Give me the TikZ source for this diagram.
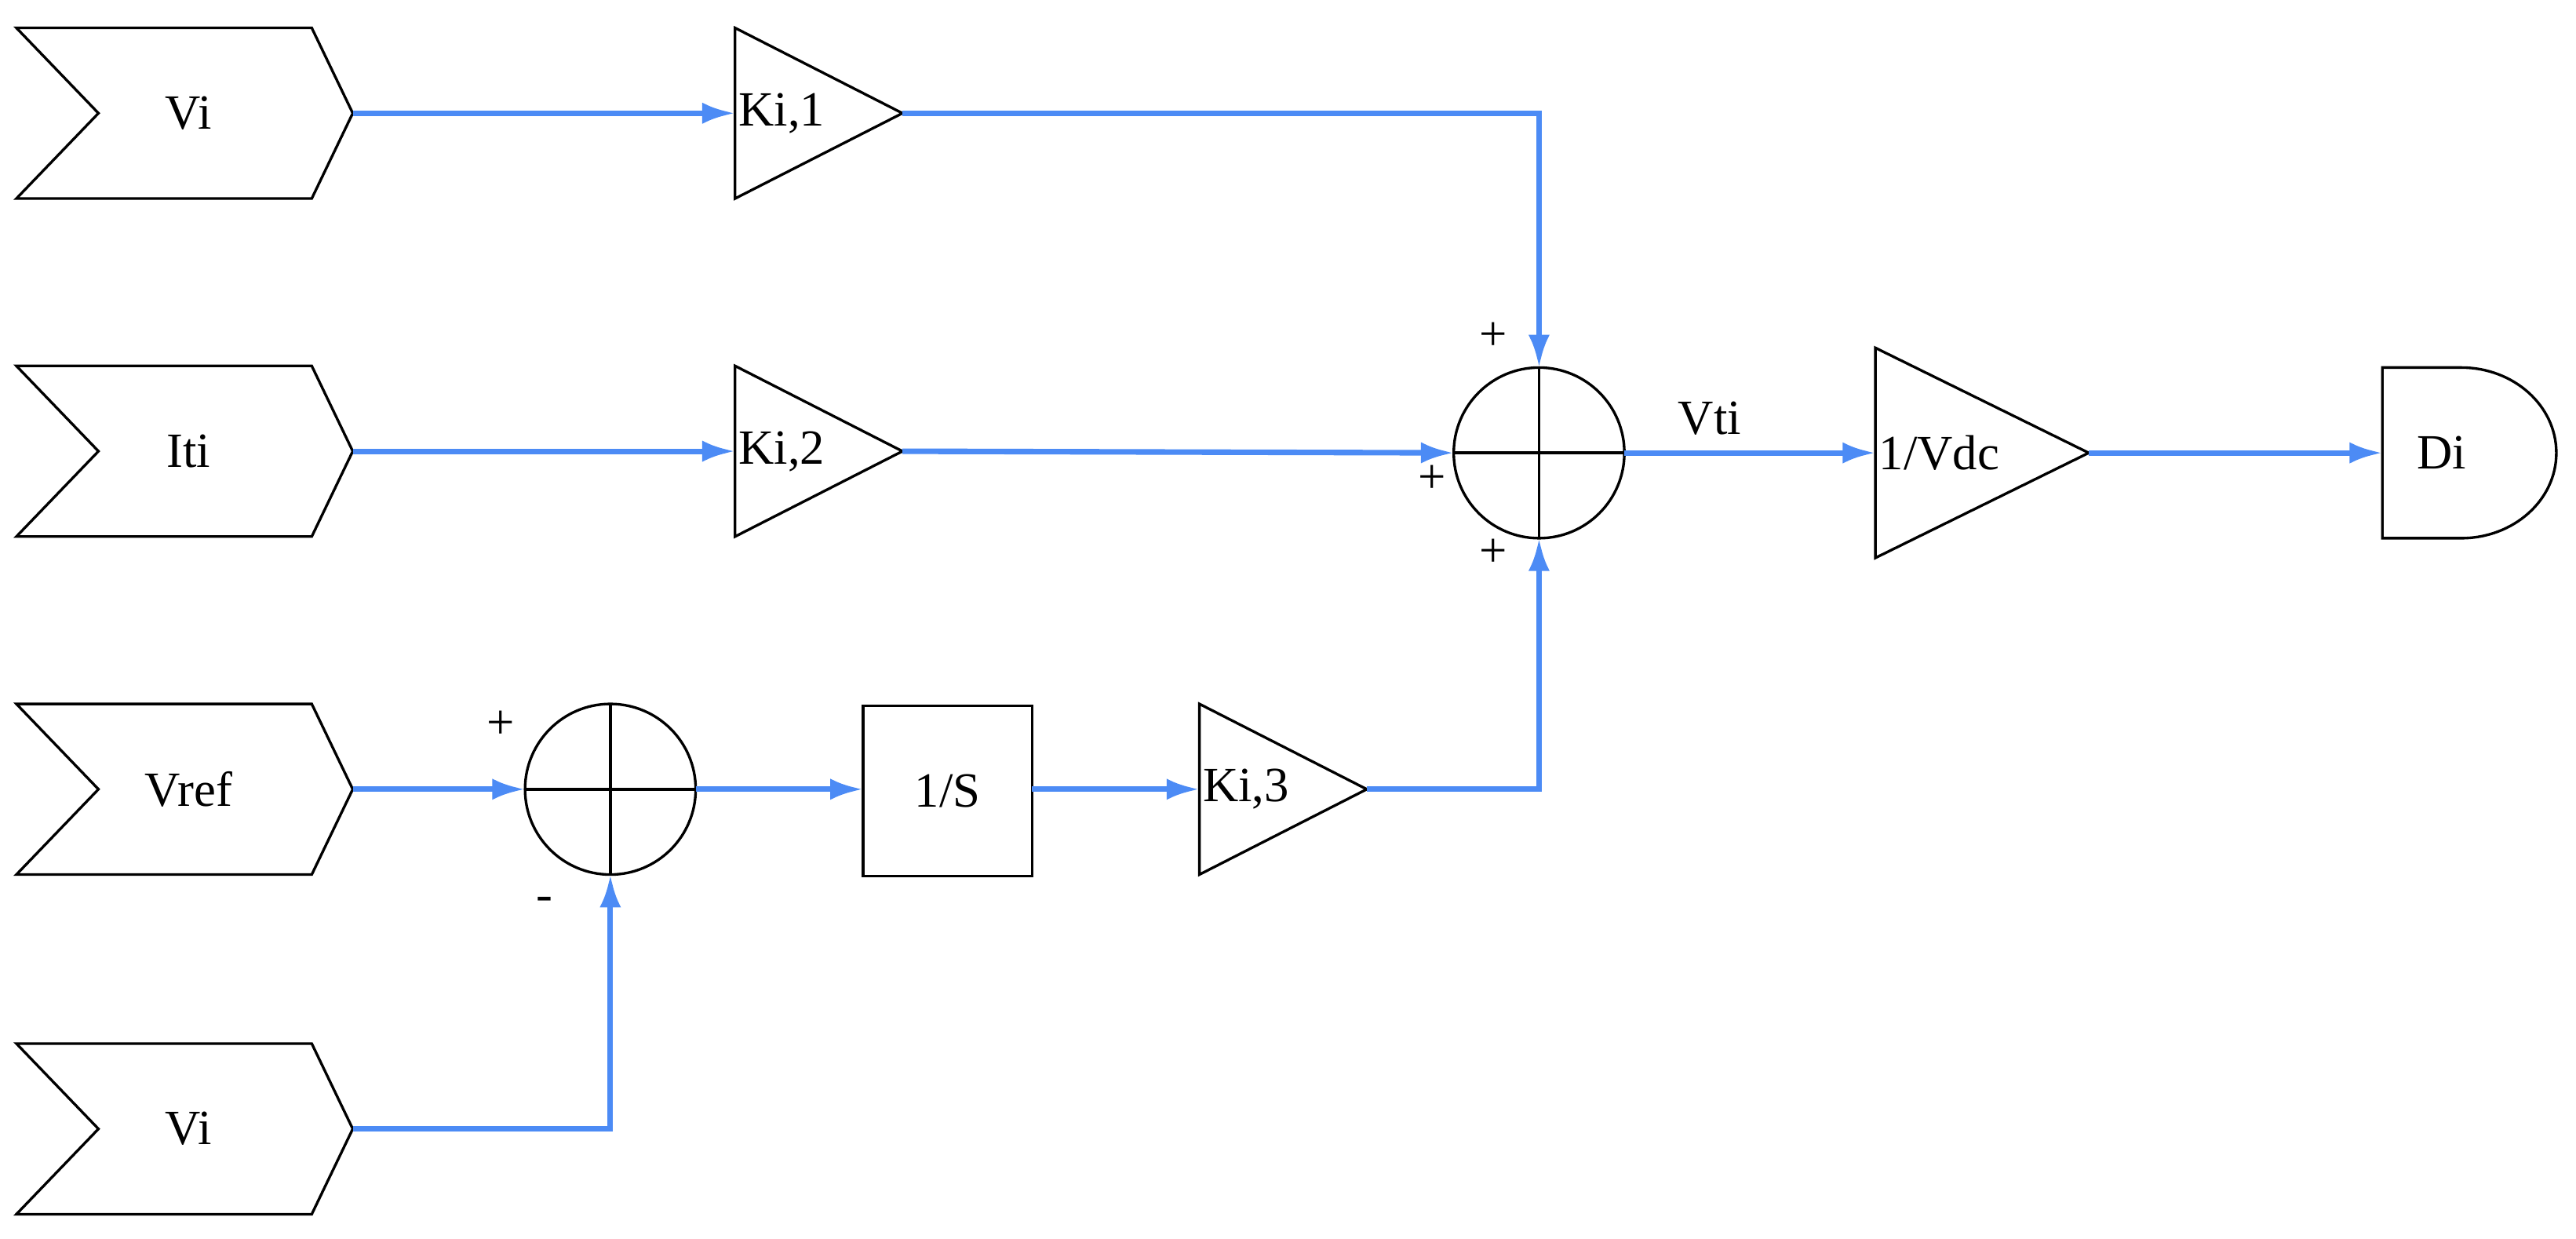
\documentclass[tikz,border=0pt]{standalone}
\usepackage{fontspec}
\setmainfont{Liberation Serif}
\usetikzlibrary{arrows.meta}
\begin{document}
\begin{tikzpicture}[x=1pt,y=-1pt,
  blk/.style={draw=black,line width=1.6pt},
  wire/.style={draw={rgb,255:red,76;green,139;blue,245},line width=3.4pt,-{Latex[length=20pt,width=13pt]}},
  lbl/.style={font=\fontsize{30}{34}\selectfont},
  sgn/.style={font=\fontsize{30}{34}\selectfont}]
\useasboundingbox (0,0) rectangle (1570,755);
% input chevrons
\foreach \n/\y/\t in {vi/69/Vi,iti/275/Iti,vref/481/Vref,vib/688/Vi}{
  \draw[blk] (10,\y-52) -- (190,\y-52) -- (215,\y) -- (190,\y+52) -- (10,\y+52) -- (60,\y) -- cycle;
  \node[lbl] (\n) at (115,\y) {\t};
  \coordinate (\n o) at (215,\y);
}
% gains
\foreach \n/\x/\y/\t in {k1/448/69/{Ki,1},k2/448/275/{Ki,2},k3/731/481/{Ki,3}}{
  \draw[blk] (\x,\y-52) -- (\x+102,\y) -- (\x,\y+52) -- cycle;
  \node[lbl,anchor=west,inner sep=0pt] (\n) at (\x+2,\y) {\t};
  \coordinate (\n i) at (\x,\y);
  \coordinate (\n o) at (\x+102,\y);
}
\draw[blk] (1143,212) -- (1273,276) -- (1143,340) -- cycle;
\node[lbl,anchor=west,inner sep=0pt] (vdc) at (1145,276) {1/Vdc};
\coordinate (vdci) at (1143,276); \coordinate (vdco) at (1273,276);
% sums
\draw[blk] (938,276) circle (52);
\draw[blk] (886,276) -- (990,276) (938,224) -- (938,328);
\coordinate (sT) at (938,224); \coordinate (sL) at (886,276);
\coordinate (sB) at (938,328); \coordinate (sR) at (990,276);
\draw[blk] (372,481) circle (52);
\draw[blk] (320,481) -- (424,481) (372,429) -- (372,533);
\coordinate (tL) at (320,481); \coordinate (tR) at (424,481); \coordinate (tB) at (372,533);
% 1/S
\draw[blk] (526,430) rectangle (629,534);
\node[lbl] (ints) at (577.5,482) {1/S};
\coordinate (intsi) at (526,481); \coordinate (intso) at (629,481);
% Di
\draw[blk] (1452,224) -- (1500,224) arc[start angle=-90,end angle=90,x radius=58,y radius=52] -- (1452,328) -- cycle;
\node[lbl] (di) at (1488,276) {Di};
\coordinate (dii) at (1452,276);
% wires
\draw[wire] (vio) -- (k1i);
\draw[wire] (k1o) -- (938,69) -- (sT);
\draw[wire] (itio) -- (k2i);
\draw[wire] (k2o) -- (sL);
\draw[wire] (k3o) -- (938,481) -- (sB);
\draw[wire] (sR) -- (vdci);
\draw[wire] (vdco) -- (dii);
\draw[wire] (vrefo) -- (tL);
\draw[wire] (tR) -- (intsi);
\draw[wire] (intso) -- (k3i);
\draw[wire] (vibo) -- (372,688) -- (tB);
% labels
\node[lbl] (vti) at (1042,255) {Vti};
\node[sgn] (p1) at (910,205) {+};
\node[sgn] (p2) at (873,292) {+};
\node[sgn] (p3) at (910,337) {+};
\node[sgn] (p4) at (305,442) {+};
\node[sgn] (m1) at (332,551) {-};
\end{tikzpicture}
\end{document}
